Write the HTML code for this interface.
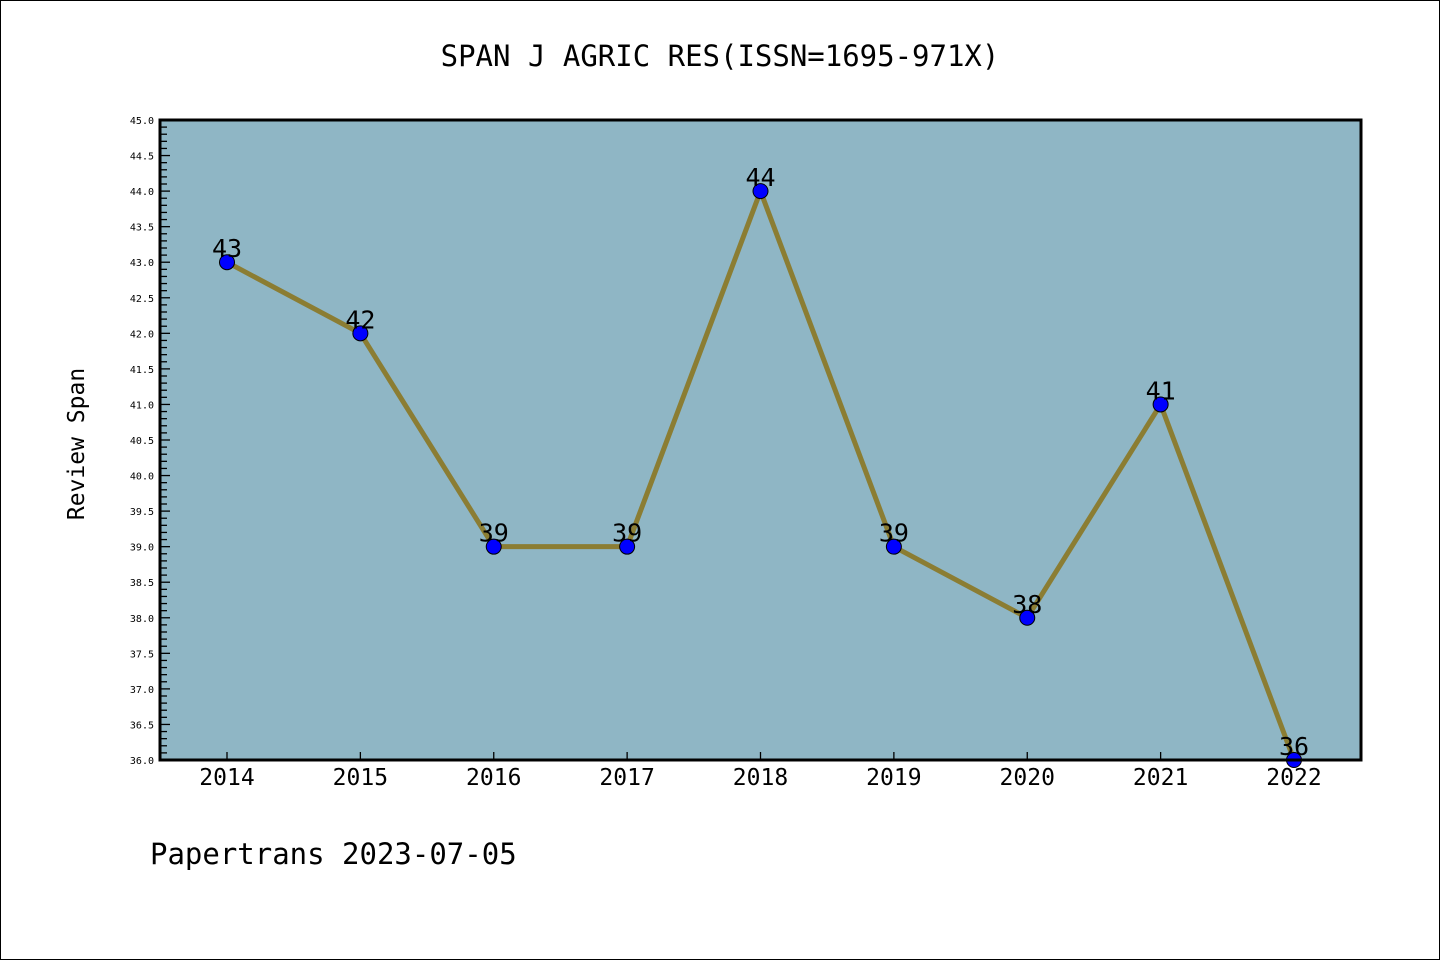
<!DOCTYPE html>
<html><head><meta charset="utf-8"><style>
html,body{margin:0;padding:0;background:#fff}
svg{display:block}
text{font-family:"DejaVu Sans Mono","Liberation Mono",monospace}
</style></head><body>
<svg id="chart" width="1440" height="960" xmlns="http://www.w3.org/2000/svg">
<rect x="0.5" y="0.5" width="1439" height="959" fill="#fff" stroke="#000"/>
<text x="720" y="66" text-anchor="middle" font-size="29">SPAN J AGRIC RES(ISSN=1695-971X)</text>
<text transform="translate(84,444) rotate(-90)" text-anchor="middle" font-size="23">Review Span</text>
<text x="150" y="864" font-size="29">Papertrans 2023-07-05</text>
<rect x="160" y="120" width="1201" height="640" fill="#8fb6c5"/>
<g id="ticks"></g>
<g id="series"></g>
<rect x="160" y="120" width="1201" height="640" fill="none" stroke="#000" stroke-width="3"/>
</svg>
<script>
const years = ["2014","2015","2016","2017","2018","2019","2020","2021","2022"];
const spans = [43,42,39,39,44,39,38,41,36];
const yMin = 36, yMax = 45;
const NS = "http://www.w3.org/2000/svg";
const X0 = 160, X1 = 1361, Y0 = 120, Y1 = 760;
function xs(i){ return 227 + i*(1294-227)/(years.length-1); }
function ys(v){ return Y1 - (v-yMin)/(yMax-yMin)*(Y1-Y0); }
function mk(tag, attrs){ const e=document.createElementNS(NS,tag); for(const k in attrs) e.setAttribute(k,attrs[k]); return e; }
const tg = document.getElementById("ticks");
for(let k=0;k<=Math.round((yMax-yMin)*10);k++){
  const v = yMin + k/10, y = ys(v), major = k%5===0;
  const t = mk("line",{x1:X0,x2:X0+(major?10:7),y1:y,y2:y,stroke:"#000","stroke-width":1.3});
  
  
  tg.appendChild(t);
  if(major){
    const l = mk("text",{x:X0-6,y:y+4,"text-anchor":"end","font-size":10});
    
    
    l.textContent = v.toFixed(1); tg.appendChild(l);
  }
}
years.forEach((yr,i)=>{
  const x = xs(i);
  const t = mk("line",{x1:x,x2:x,y1:Y1,y2:Y1-8,stroke:"#000","stroke-width":1.3});
  
  
  tg.appendChild(t);
  const l = mk("text",{x:x,y:785,"text-anchor":"middle","font-size":23});
  
  
  l.textContent = yr; tg.appendChild(l);
});
const sg = document.getElementById("series");
const line = mk("polyline",{points:spans.map((v,i)=>xs(i)+","+ys(v)).join(" "),fill:"none",stroke:"#8b7d33","stroke-width":5,"stroke-linejoin":"round"});


sg.appendChild(line);
spans.forEach((v,i)=>{
  const c = mk("circle",{cx:xs(i),cy:ys(v),r:7.5,fill:"#0000ff",stroke:"#000","stroke-width":1});
  
  
  sg.appendChild(c);
  const l = mk("text",{x:xs(i),y:ys(v)-5,"text-anchor":"middle","font-size":25,"font-family":"Liberation Sans, sans-serif"});
  
  
  l.textContent = v; sg.appendChild(l);
});
</script>
</body></html>
